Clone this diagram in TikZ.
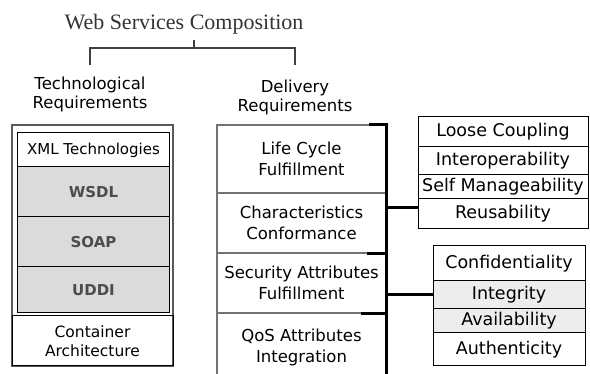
\documentclass[tikz,border=0pt]{standalone}
\usepackage{fontspec}
\newfontfamily\boxfont{DejaVu Sans}
\newfontfamily\titlefont{Liberation Serif}

\begin{document}
\begin{tikzpicture}[x = 1pt, y = -1pt, font = \boxfont\fontsize{16.5}{21}\selectfont]
	\tikzstyle{cellStyle} = [shape = rectangle, draw, line width = 1pt, inner sep = 0pt, align = center]
	\tikzstyle{techStyle} = [cellStyle, minimum width = 152pt]
	\tikzstyle{shadedStyle} = [techStyle, fill = black!14, text = black!70, font = \boxfont\bfseries\fontsize{15}{18}\selectfont]
	\tikzstyle{deliveryStyle} = [cellStyle, draw = black!55, line width = 1.5pt, minimum width = 169pt]
	\tikzstyle{upperStyle} = [cellStyle, minimum width = 170pt, font = \boxfont\fontsize{17.5}{20}\selectfont]
	\tikzstyle{lowerStyle} = [cellStyle, minimum width = 152pt, font = \boxfont\fontsize{17.5}{20}\selectfont]
	\tikzstyle{headStyle} = [align = center, font = \boxfont\fontsize{16.5}{19}\selectfont]
	\tikzstyle{forkStyle} = [draw = black!75, line width = 1.5pt]
	\tikzstyle{spineStyle} = [draw, line width = 3pt]
	\useasboundingbox (0,0) rectangle (590,374);
	% title and the two requirement groups
	\node[text = black!80, font = \titlefont\fontsize{22}{24}\selectfont] (wsc) at (184,24) {Web Services Composition};
	\node[headStyle] (techreq) at (90,94) {Technological\\Requirements};
	\node[headStyle] (delreq) at (295,97) {Delivery\\Requirements};
	\coordinate (fork) at (194,48);
	\draw[forkStyle] (fork) -- (194,40);
	\draw[forkStyle] (techreq.north |- 0,65) -- (techreq.north |- fork) -- (delreq.north |- fork) -- (delreq.north |- 0,65);
	% technological stack
	\node[cellStyle, draw = black!65, line width = 2.5pt, minimum width = 161pt, minimum height = 241pt] (techframe) at (92.5,245.5) {};
	\node[techStyle, minimum height = 34pt, font = \boxfont\fontsize{15}{18}\selectfont] (xml) at (93.5,150) {XML Technologies};
	\node[shadedStyle, minimum height = 50pt] (wsdl) at (93.5,192) {WSDL};
	\node[shadedStyle, minimum height = 50pt] (soap) at (93.5,242) {SOAP};
	\node[shadedStyle, minimum height = 46pt] (uddi) at (93.5,290) {UDDI};
	\node[cellStyle, minimum width = 161pt, minimum height = 50pt, font = \boxfont\fontsize{15.5}{19}\selectfont] (container) at (92.5,341) {Container\\Architecture};
	% delivery column
	\node[deliveryStyle, minimum height = 68pt] (life) at (301.5,159) {Life Cycle\\Fulfillment};
	\node[deliveryStyle, minimum height = 60pt] (charc) at (301.5,223) {Characteristics\\Conformance};
	\node[deliveryStyle, minimum height = 60pt] (secur) at (301.5,283) {Security Attributes\\Fulfillment};
	\node[deliveryStyle, minimum height = 68pt] (qos) at (301.5,347) {QoS Attributes\\Integration};
	\draw[spineStyle] ([xshift = -18pt]life.north east) -- (life.north east) -- (qos.south east);
	\draw[spineStyle] ([xshift = -20pt]charc.south east) -- (charc.south east);
	\draw[spineStyle] ([xshift = -26pt]secur.south east) -- (secur.south east);
	% characteristics
	\node[upperStyle, minimum height = 30pt] (loose) at (503,132) {Loose Coupling};
	\node[upperStyle, minimum height = 28pt] (interop) at (503,161) {Interoperability};
	\node[upperStyle, minimum height = 24pt] (selfman) at (503,187) {Self Manageability};
	\node[upperStyle, minimum height = 30pt] (reuse) at (503,214) {Reusability};
	% security attributes
	\node[lowerStyle, minimum height = 35pt] (conf) at (509,263.5) {Confidentiality};
	\node[lowerStyle, minimum height = 28pt, fill = black!7] (integ) at (509,295) {Integrity};
	\node[lowerStyle, minimum height = 24pt, fill = black!7] (avail) at (509,321) {Availability};
	\node[lowerStyle, minimum height = 33pt] (auth) at (509,349.5) {Authenticity};
	\coordinate (joint) at (386,208);
	\draw[spineStyle] (joint) -- (joint -| reuse.west);
	\draw[spineStyle] (integ.west -| qos.east) -- (integ.west);
\end{tikzpicture}
\end{document}
